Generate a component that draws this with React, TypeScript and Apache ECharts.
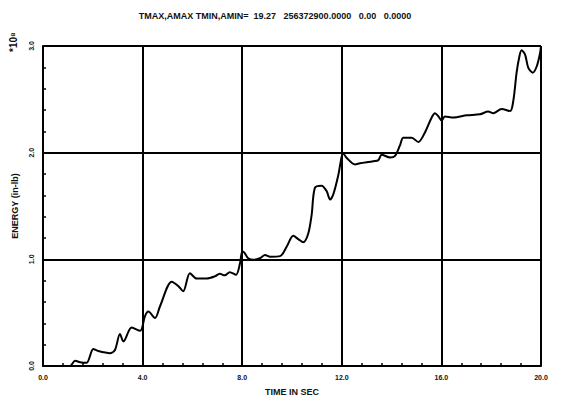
import React, { useEffect, useRef } from "react";
import * as echarts from "echarts";

const timeSec = [
  0, 0.6, 1.08, 1.29, 1.49, 1.75, 2.02, 2.22, 2.69, 2.89, 3.09, 3.23, 3.56, 3.9, 4.1, 4.23, 4.5, 4.7,
  5.17, 5.43, 5.63, 5.9, 6.17, 6.57, 6.9, 7.1, 7.3, 7.5, 7.75, 7.91, 7.98, 8.04, 8.24, 8.45, 8.71,
  8.92, 9.12, 9.52, 9.79, 10.05, 10.25, 10.45, 10.65, 10.79, 10.92, 11.19, 11.39, 11.53, 11.66,
  11.86, 12.0, 12.06, 12.2, 12.53, 12.73, 13.27, 13.47, 13.6, 13.94, 14.14, 14.34, 14.47, 14.81,
  15.07, 15.34, 15.61, 15.74, 15.88, 16.01, 16.14, 16.48, 17.02, 17.55, 17.88, 18.08, 18.42,
  18.76, 18.89, 19.02, 19.13, 19.22, 19.36, 19.49, 19.67, 19.83, 19.96, 20.0,
];
const energy = [
  0, 0, 0, 0.05, 0.035, 0.03, 0.16, 0.14, 0.12, 0.15, 0.3, 0.23, 0.36, 0.33, 0.47, 0.51, 0.45, 0.56,
  0.79, 0.75, 0.7, 0.87, 0.82, 0.82, 0.84, 0.865, 0.85, 0.88, 0.855, 0.96, 1.06, 1.07, 1.01, 0.995,
  1.01, 1.04, 1.025, 1.03, 1.12, 1.22, 1.19, 1.16, 1.24, 1.42, 1.67, 1.69, 1.64, 1.56, 1.61, 1.79,
  1.97, 1.99, 1.95, 1.89, 1.9, 1.92, 1.93, 1.98, 1.955, 1.97, 2.07, 2.14, 2.14, 2.1, 2.19, 2.33,
  2.37, 2.34, 2.3, 2.34, 2.33, 2.35, 2.36, 2.385, 2.37, 2.41, 2.39, 2.49, 2.75, 2.9, 2.96, 2.92,
  2.795, 2.75, 2.81, 2.93, 3.0,
];
const xTicks = ["0.0", "4.0", "8.0", "12.0", "16.0", "20.0"];
const yTicks = ["0.0", "1.0", "2.0", "3.0"];
const titleText = "TMAX,AMAX TMIN,AMIN=  19.27   256372900.0000   0.00   0.0000";

const FONT = "'Liberation Sans Narrow', 'Liberation Sans', Arial, sans-serif";

export default function App() {
  const ref = useRef<HTMLDivElement>(null);
  useEffect(() => {
    if (!ref.current) return;
    const chart = echarts.init(ref.current, null, { renderer: "svg" });
    const data = timeSec.map((t, i) => [t, energy[i]]);
    chart.setOption({
      animation: false,
      backgroundColor: "#ffffff",
      title: {
        text: titleText,
        left: 270,
        top: 6,
        textAlign: "center",
        textStyle: { fontFamily: FONT, fontSize: 9, fontWeight: "bold", color: "#111" },
      },
      graphic: [
        {
          type: "text",
          x: 8,
          y: 52,
          rotation: Math.PI / 2,
          style: { text: "*10\u2078", fontFamily: FONT, fontSize: 10, fontWeight: "bold", fill: "#111" },
        },
      ],
      grid: { left: 43, right: 23, top: 46, bottom: 30, show: false },
      xAxis: {
        type: "value",
        min: 0,
        max: 20,
        interval: 4,
        name: "TIME IN SEC",
        nameLocation: "middle",
        nameGap: 21,
        nameTextStyle: { fontFamily: FONT, fontSize: 9, fontWeight: "bold", color: "#111" },
        axisLine: { show: true, lineStyle: { color: "#000", width: 2 } },
        axisTick: { show: true, inside: true, length: 4, lineStyle: { color: "#000", width: 2 } },
        minorTick: { show: true, splitNumber: 5, length: 3, lineStyle: { color: "#000", width: 1.5 } },
        splitLine: { show: true, lineStyle: { color: "#000", width: 2 } },
        axisLabel: {
          fontFamily: FONT,
          fontSize: 7,
          fontWeight: "bold",
          color: "#111",
          margin: 8,
          formatter: (v: number) => xTicks[Math.round(v / 4)] ?? "",
        },
      },
      yAxis: {
        type: "value",
        min: 0,
        max: 3,
        interval: 1,
        name: "ENERGY (in-lb)",
        nameLocation: "middle",
        nameGap: 24,
        nameTextStyle: { fontFamily: FONT, fontSize: 9, fontWeight: "bold", color: "#111" },
        axisLine: { show: true, lineStyle: { color: "#000", width: 2 } },
        axisTick: { show: true, inside: true, length: 4, lineStyle: { color: "#000", width: 2 } },
        minorTick: { show: true, splitNumber: 5, length: 3, lineStyle: { color: "#000", width: 1.5 } },
        splitLine: { show: true, lineStyle: { color: "#000", width: 2 } },
        axisLabel: {
          fontFamily: FONT,
          fontSize: 7,
          fontWeight: "bold",
          color: "#111",
          rotate: 90,
          margin: 8,
          formatter: (v: number) => yTicks[Math.round(v)] ?? "",
        },
      },
      series: [
        {
          type: "line",
          data,
          smooth: 0.3,
          showSymbol: false,
          lineStyle: { color: "#000", width: 2 },
        },
      ],
    });
    return () => chart.dispose();
  }, []);
  return <div ref={ref} style={{ width: 564, height: 401, position: "absolute", left: 0, top: 0 }} />;
}
